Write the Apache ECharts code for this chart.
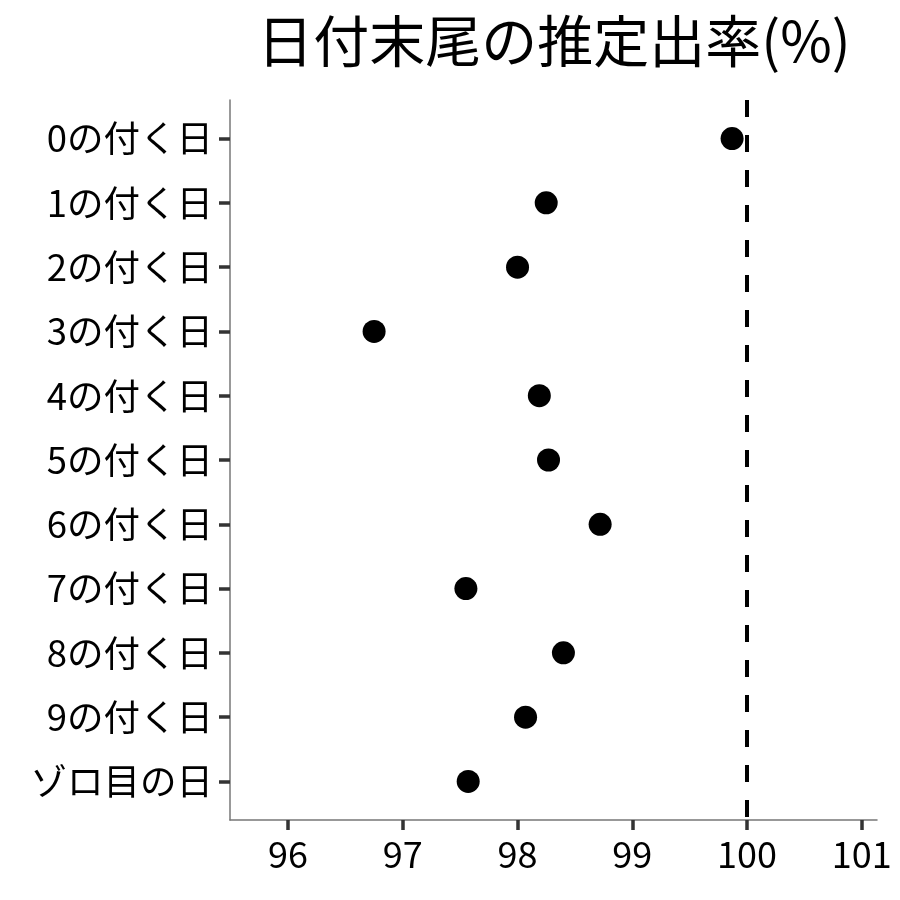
<!DOCTYPE html>
<html>
<head>
<meta charset="utf-8">
<script src="https://cdn.jsdelivr.net/npm/echarts@6/dist/echarts.min.js"></script>
<style>
  html, body { margin: 0; padding: 0; background: #fff; }
  #chart { width: 900px; height: 900px; }
</style>
</head>
<body>
<div id="chart"></div>
<script>
// 日付末尾ごとの推定出率
const categories = [
  '0の付く日', '1の付く日', '2の付く日', '3の付く日', '4の付く日',
  '5の付く日', '6の付く日', '7の付く日', '8の付く日', '9の付く日', 'ゾロ目の日'
];
const rates = [99.87, 98.25, 98.00, 96.75, 98.19, 98.27, 98.72, 97.55, 98.40, 98.07, 97.57];
const xTicks = [96, 97, 98, 99, 100, 101];
const refLine = 100;

const font = '"Noto Sans CJK JP", "Noto Sans", sans-serif';
const chart = echarts.init(document.getElementById('chart'), null, { renderer: 'canvas' });

chart.setOption({
  animation: false,
  backgroundColor: '#fff',
  title: {
    text: '日付末尾の推定出率(%)',
    left: 549,
    textAlign: 'center',
    top: 8,
    textStyle: { fontFamily: font, fontSize: 56, fontWeight: 'normal', color: '#000' },
  },
  grid: { left: 230, right: 23, top: 100, bottom: 80 },
  xAxis: {
    type: 'value',
    min: 95.494,
    max: 101.133,
    splitLine: { show: false },
    axisLine: { show: true, onZero: false, lineStyle: { color: '#777', width: 1.5 } },
    axisTick: {
      show: true,
      customValues: xTicks,
      length: 10,
      lineStyle: { color: '#333', width: 3.5 },
    },
    axisLabel: {
      customValues: xTicks,
      margin: 16,
      fontFamily: font,
      fontSize: 36,
      color: '#000',
    },
  },
  yAxis: {
    type: 'value',
    inverse: true,
    min: -0.6,
    max: 10.6,
    splitLine: { show: false },
    axisLine: { show: true, onZero: false, lineStyle: { color: '#777', width: 1.5 } },
    axisTick: {
      show: true,
      customValues: categories.map((c, i) => i),
      length: 11,
      lineStyle: { color: '#333', width: 3.5 },
    },
    axisLabel: {
      customValues: categories.map((c, i) => i),
      formatter: (v) => categories[Math.round(v)],
      margin: 17,
      fontFamily: font,
      fontSize: 36.5,
      color: '#000',
    },
  },
  series: [
    {
      type: 'scatter',
      symbolSize: 23,
      itemStyle: { color: '#000', opacity: 1 },
      data: rates.map((r, i) => [r, i]),
      markLine: {
        silent: true,
        symbol: 'none',
        label: { show: false },
        lineStyle: { color: '#000', width: 4, type: [17, 18] },
        data: [{ xAxis: refLine }],
      },
    },
  ],
});
</script>
</body>
</html>
